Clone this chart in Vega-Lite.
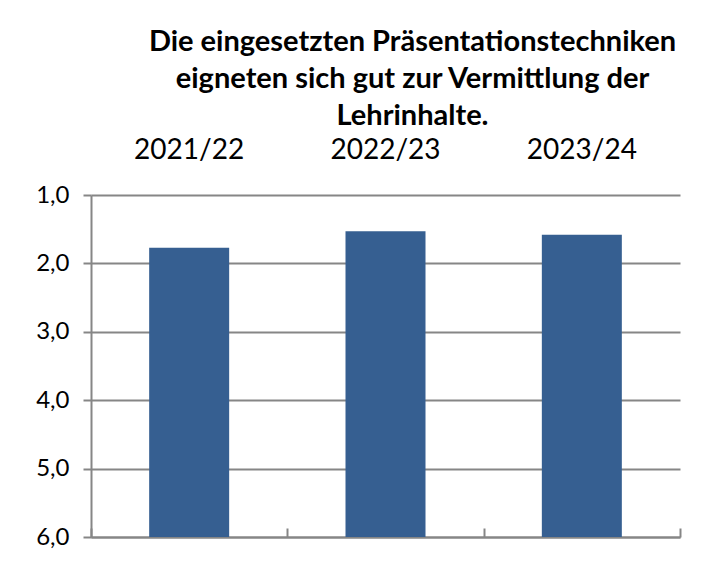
{
  "$schema": "https://vega.github.io/schema/vega-lite/v6.json",
  "width": 589,
  "height": 342,
  "autosize": {"type": "none"},
  "padding": {"left": 91, "top": 195, "right": 38, "bottom": 33},
  "background": "white",
  "data": {"values": [
    {"year": "2021/22", "value": 1.77},
    {"year": "2022/23", "value": 1.53},
    {"year": "2023/24", "value": 1.58}
  ]},
  "title": {
    "text": ["Die eingesetzten Präsentationstechniken", "eigneten sich gut zur Vermittlung  der", "Lehrinhalte."],
    "font": "Lato",
    "fontSize": 29,
    "fontWeight": "bold",
    "color": "#000000",
    "lineHeight": 37,
    "anchor": "middle",
    "dx": 27,
    "offset": 5
  },
  "layer": [
    {
      "mark": {"type": "bar", "color": "#365F91", "width": 80},
      "encoding": {
        "x": {
          "field": "year", "type": "nominal", "sort": null,
          "scale": {"paddingInner": 0, "paddingOuter": 0},
          "axis": {
            "orient": "bottom", "title": null, "labels": false,
            "tickBand": "extent", "tickSize": -9, "tickWidth": 2, "tickColor": "#868686",
            "domainColor": "#868686", "domainWidth": 2, "grid": false
          }
        },
        "y": {
          "field": "value", "type": "quantitative",
          "scale": {"domain": [1, 6], "reverse": true, "nice": false, "zero": false},
          "axis": {
            "title": null, "values": [1, 2, 3, 4, 5, 6],
            "labelExpr": "replace(format(datum.value, '.1f'), '.', ',')",
            "labelFont": "Lato", "labelFontSize": 24, "labelColor": "#000000",
            "labelPadding": 14, "tickSize": 8, "tickWidth": 2, "tickColor": "#868686",
            "domainColor": "#868686", "domainWidth": 2,
            "grid": true, "gridColor": "#868686", "gridWidth": 2
          }
        },
        "y2": {"datum": 6}
      }
    },
    {
      "mark": {"type": "bar", "opacity": 0},
      "encoding": {
        "x": {
          "field": "year", "type": "nominal", "sort": null,
          "axis": {
            "orient": "top", "title": null, "ticks": false, "tickSize": 0, "domain": false,
            "labelAngle": 0, "labelFont": "Lato", "labelFontSize": 28, "labelColor": "#000000",
            "labelPadding": 31, "grid": false
          }
        },
        "y": {"field": "value", "type": "quantitative"},
        "y2": {"datum": 6}
      }
    }
  ],
  "resolve": {"axis": {"x": "independent"}},
  "config": {"view": {"stroke": null}}
}
